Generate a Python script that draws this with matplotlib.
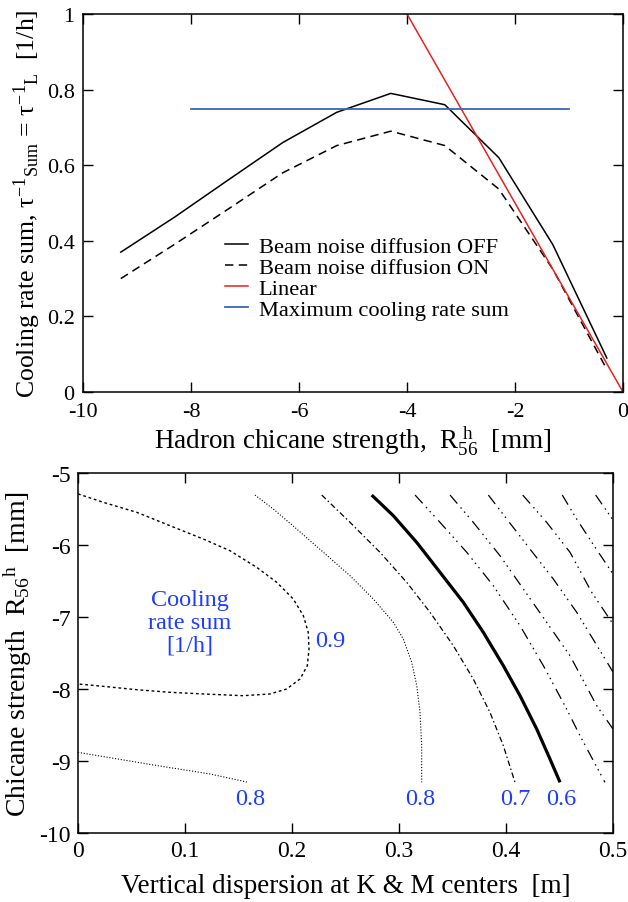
import matplotlib
matplotlib.use("Agg")
import matplotlib.pyplot as plt

plt.rcParams['font.family'] = ['Liberation Serif', 'DejaVu Serif']
plt.rcParams['mathtext.fontset'] = 'custom'
plt.rcParams['mathtext.rm'] = 'Liberation Serif'
plt.rcParams['mathtext.it'] = 'Liberation Serif'
plt.rcParams['mathtext.bf'] = 'Liberation Serif:bold'
plt.rcParams['axes.unicode_minus'] = False

# ---------------- top panel data ----------------
r56_x = [-9.3, -8.3, -7.3, -6.3, -5.3, -4.3, -3.3, -2.3, -1.3, -0.3]
rate_off = [0.37, 0.463, 0.562, 0.66, 0.74, 0.79, 0.76, 0.62, 0.39, 0.09]
rate_on = [0.30, 0.391, 0.485, 0.58, 0.652, 0.69, 0.652, 0.537, 0.325, 0.06]
linear_x = [-4.0, 0.0]
linear_y = [1.0, 0.0]
max_x = [-8.0, -1.0]
max_y = [0.75, 0.75]
top_xticks = [-10, -8, -6, -4, -2, 0]
top_yticks = [0, 0.2, 0.4, 0.6, 0.8, 1.0]
top_yticklabels = ["0", "0.2", "0.4", "0.6", "0.8", "1"]
legend_labels = ["Beam noise diffusion OFF", "Beam noise diffusion ON",
                 "Linear", "Maximum cooling rate sum"]

# ---------------- bottom panel contour data ----------------
c09_x = [0.0, 0.0236, 0.0549, 0.086, 0.1171, 0.142, 0.167, 0.1857, 0.2012, 0.2106,
         0.2152, 0.2159, 0.2143, 0.2075, 0.195, 0.1794, 0.1545, 0.1171, 0.086,
         0.0549, 0.0236, 0.0]
c09_y = [-5.29, -5.407, -5.546, -5.732, -5.917, -6.079, -6.31, -6.518, -6.75, -6.982,
         -7.213, -7.444, -7.676, -7.861, -8.0, -8.069, -8.093, -8.069, -8.046,
         -8.01, -7.963, -7.93]
c08a_x = [0.0, 0.0766, 0.1234, 0.159]
c08a_y = [-8.88, -9.07, -9.18, -9.296]
c08b_x = [0.1654, 0.1825, 0.2044, 0.2293, 0.2542, 0.276, 0.2947, 0.304, 0.3119,
          0.3166, 0.3196, 0.3212, 0.3212]
c08b_y = [-5.306, -5.5, -5.778, -6.101, -6.426, -6.75, -7.074, -7.306, -7.63,
          -7.954, -8.324, -8.787, -9.296]
c07_x = [0.2278, 0.2542, 0.2822, 0.3072, 0.329, 0.3508, 0.3694, 0.385, 0.3975, 0.4084]
c07_y = [-5.306, -5.685, -6.101, -6.518, -6.935, -7.399, -7.861, -8.324, -8.787, -9.296]
c06_x = [0.2745, 0.2947, 0.3165, 0.3383, 0.3601, 0.3788, 0.3975, 0.4131, 0.4287,
         0.4411, 0.4505]
c06_y = [-5.306, -5.593, -5.963, -6.379, -6.796, -7.213, -7.676, -8.093, -8.556,
         -8.972, -9.296]
c05_x = [0.315, 0.3383, 0.3633, 0.3881, 0.4131, 0.4349, 0.4567, 0.4692, 0.4925]
c05_y = [-5.306, -5.685, -6.101, -6.565, -7.12, -7.676, -8.278, -8.65, -9.296]
c04_x = [0.3477, 0.3694, 0.3944, 0.4162, 0.438, 0.4598, 0.4848, 0.5]
c04_y = [-5.306, -5.685, -6.149, -6.611, -7.074, -7.538, -8.232, -8.556]
c03_x = [0.3835, 0.4007, 0.4224, 0.4442, 0.4661, 0.5]
c03_y = [-5.306, -5.639, -6.056, -6.472, -6.935, -7.764]
c02_x = [0.4156, 0.438, 0.4598, 0.4801, 0.5]
c02_y = [-5.306, -5.685, -6.101, -6.657, -7.097]
c01_x = [0.4526, 0.466, 0.4832, 0.5]
c01_y = [-5.306, -5.639, -6.03, -6.403]
c00_x = [0.4838, 0.5]
c00_y = [-5.306, -5.653]

label_texts = ["0.9", "0.8", "0.8", "0.7", "0.6"]
label_x = [0.2355, 0.1607, 0.3196, 0.4084, 0.4514]
label_y = [-7.32, -9.52, -9.52, -9.52, -9.52]
bottom_xticks = [0, 0.1, 0.2, 0.3, 0.4, 0.5]
bottom_xticklabels = ["0", "0.1", "0.2", "0.3", "0.4", "0.5"]
bottom_yticks = [-10, -9, -8, -7, -6, -5]

BLUE_TXT = '#1f3dff'
LAB = 19.5

fig = plt.figure(figsize=(6.28, 9.03), dpi=100)

# ---------------- top panel ----------------
ax1 = fig.add_axes([83/628, 1-393/903, 540/628, 378/903])
l1, = ax1.plot(r56_x, rate_off, color='black', lw=1.1)
l2, = ax1.plot(r56_x, rate_on, color='black', lw=1.1, dashes=(5.5, 3.5))
l3, = ax1.plot(linear_x, linear_y, color='#e8211d', lw=1.1)
l4, = ax1.plot(max_x, max_y, color='#3a64b2', lw=1.3)
ax1.set_xlim(-10, 0)
ax1.set_ylim(0, 1)
ax1.set_xticks(top_xticks)
ax1.set_xticklabels([str(t) for t in top_xticks])
ax1.set_yticks(top_yticks)
ax1.set_yticklabels(top_yticklabels)
ax1.set_xlabel(r'Hadron chicane strength,  $\mathrm{R}_{56}^{\ \mathrm{h}}$  [mm]',
               fontsize=LAB, labelpad=2)
ax1.set_ylabel(r'Cooling rate sum, $\tau^{\mathrm{-1}}{}_{\mathrm{Sum}}$ = $\tau^{\mathrm{-1}}{}_{\mathrm{L}}$  [1/h]',
               fontsize=18.5, labelpad=3)
leg = ax1.legend([l1, l2, l3, l4], legend_labels, loc='upper left',
                 bbox_to_anchor=(0.263, 0.413), frameon=False, fontsize=16.2,
                 handlelength=1.0, handletextpad=0.5, labelspacing=0.02,
                 borderpad=0, borderaxespad=0)

# ---------------- bottom panel ----------------
ax2 = fig.add_axes([78/628, 1-834/903, 535/628, 360/903])
thin = 0.9
ax2.plot(c09_x, c09_y, color='black', lw=1.0, dashes=(2.0, 2.0))
ax2.plot(c08a_x, c08a_y, color='black', lw=0.8, dashes=(1.0, 1.6))
ax2.plot(c08b_x, c08b_y, color='black', lw=0.8, dashes=(1.0, 1.6))
ax2.plot(c07_x, c07_y, color='black', lw=thin, dashes=(4.5, 2.2, 1.2, 2.2))
ax2.plot(c06_x, c06_y, color='black', lw=2.3, solid_capstyle='butt',
         solid_joinstyle='round')
ddd = (9.0, 4.0, 1.2, 3.2, 1.2, 3.2, 1.2, 4.5)
for xs, ys in [(c05_x, c05_y), (c04_x, c04_y), (c03_x, c03_y),
               (c02_x, c02_y), (c01_x, c01_y), (c00_x, c00_y)]:
    ax2.plot(xs, ys, color='black', lw=thin, dashes=ddd)
for t, x, y in zip(label_texts, label_x, label_y):
    ax2.text(x, y, t, color=BLUE_TXT, fontsize=17.5, ha='center', va='center')
ax2.text(0.1047, -7.074, "Cooling\nrate sum\n[1/h]", color=BLUE_TXT, fontsize=17.5,
         ha='center', va='center', linespacing=1.12)
ax2.set_xlim(0, 0.5)
ax2.set_ylim(-10, -5)
ax2.set_xticks(bottom_xticks)
ax2.set_xticklabels(bottom_xticklabels)
ax2.set_yticks(bottom_yticks)
ax2.set_yticklabels([str(t) for t in bottom_yticks])
ax2.set_xlabel('Vertical dispersion at K & M centers  [m]', fontsize=LAB, labelpad=9)
ax2.set_ylabel(r'Chicane strength  $\mathrm{R}_{56}{}^{\mathrm{h}}$  [mm]',
               fontsize=20, labelpad=4)

for ax, ls in ((ax1, 16), (ax2, 17)):
    for s in ax.spines.values():
        s.set_linewidth(1.1)
    ax.tick_params(direction='in', length=7, width=1.0, top=True, right=True,
                   labelsize=ls, pad=5)
ax1.tick_params(axis='x', pad=7)
ax1.tick_params(axis='y', pad=6)

fig.savefig('out.png', dpi=100)
